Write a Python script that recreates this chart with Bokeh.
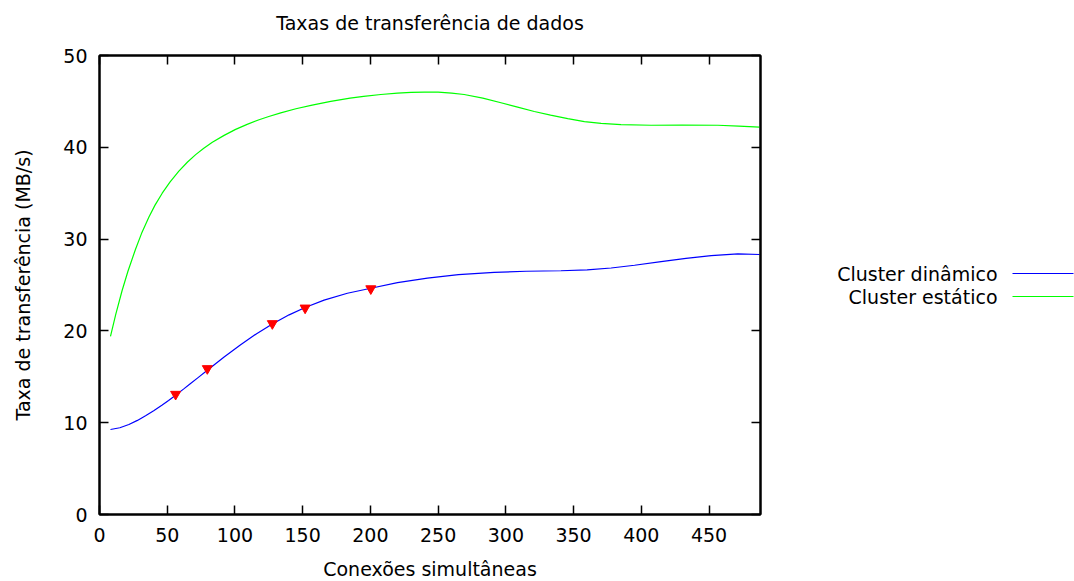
from bokeh.plotting import figure
from bokeh.layouts import row, column
from bokeh.models import Range1d, LinearAxis, FixedTicker, ColumnDataSource
from bokeh.core.properties import value
from bokeh.embed import file_html
from bokeh.resources import INLINE

# ---- data ----
dyn_x = [8.1, 15, 21.7, 28, 34, 40, 46.3, 51, 56.2, 62, 67, 73, 79.6, 92, 104.2, 116,
         127.6, 140, 151.8, 165.8, 183, 200.3, 220, 242.1, 265, 291.4, 315, 340.7, 360,
         377.7, 395, 414.6, 433, 451.6, 471.3, 487.3]
dyn_y = [9.26, 9.45, 9.8, 10.25, 10.75, 11.3, 11.92, 12.42, 13.0, 13.66, 14.24, 14.94,
         15.71, 17.15, 18.5, 19.7, 20.75, 21.75, 22.55, 23.35, 24.1, 24.65, 25.25, 25.75,
         26.12, 26.38, 26.5, 26.55, 26.65, 26.85, 27.15, 27.55, 27.9, 28.2, 28.38, 28.32]
mark_x = [56.2, 79.6, 127.6, 151.8, 200.3]
mark_y = [13.1, 15.9, 20.8, 22.5, 24.6]
sta_x = [8.1, 12, 16.7, 21, 26.6, 31, 36.5, 41, 46.3, 52, 58.6, 65, 71, 77, 83.3, 92,
         100.5, 109, 117.8, 125, 133.8, 145, 157, 170.7, 185, 195, 207.7, 220, 230, 239.7,
         250, 260, 269.2, 283, 296.4, 308, 321, 333, 345.7, 358, 370.3, 385, 407.2, 430,
         456.5, 472, 487.3]
sta_y = [19.4, 21.8, 24.4, 26.5, 28.9, 30.6, 32.4, 33.7, 35.0, 36.2, 37.4, 38.4, 39.2,
         39.9, 40.55, 41.3, 41.95, 42.5, 43.0, 43.35, 43.75, 44.2, 44.6, 45.0, 45.35, 45.55,
         45.75, 45.9, 45.98, 46.0, 46.0, 45.9, 45.75, 45.35, 44.85, 44.4, 43.9, 43.5, 43.12,
         42.8, 42.6, 42.47, 42.4, 42.42, 42.4, 42.3, 42.2]
x_ticks = [0, 50, 100, 150, 200, 250, 300, 350, 400, 450]
y_ticks = [0, 10, 20, 30, 40, 50]
series_names = ["Cluster dinâmico", "Cluster estático"]
series_colors = ["#0000ff", "#00ff00"]
title_text = ["Taxas de transferência de dados"]

FONT = "DejaVu Sans"
FS = "19px"
W, H = 1074, 581
TITLE_H = 40
FW, FH = 661, 459
LEFT, TOP_B, BOTTOM_B = 99, 15, 67
P_W = 780

# ---- title strip ----
t = figure(width=W, height=TITLE_H, x_range=Range1d(0, W), y_range=Range1d(TITLE_H, 0),
           output_backend="svg", toolbar_location=None, min_border=0,
           x_axis_type=None, y_axis_type=None, outline_line_color=None)
t.grid.visible = False
t.text(x=[LEFT + FW / 2], y=[22], text=title_text, text_align="center",
       text_baseline="middle", text_font_size=FS, text_color="black", text_font=value(FONT))

# ---- main plot ----
p = figure(frame_width=FW, frame_height=FH, x_range=Range1d(0, 488), y_range=Range1d(0, 50),
           output_backend="svg", toolbar_location=None,
           min_border_left=LEFT, min_border_right=P_W - LEFT - FW, min_border_top=TOP_B,
           min_border_bottom=BOTTOM_B,
           x_axis_label="Conexões simultâneas", y_axis_label="Taxa de transferência (MB/s)")
p.grid.visible = False
p.outline_line_color = "black"
p.outline_line_width = 2
p.background_fill_color = "white"
p.border_fill_color = "white"

for ax in p.xaxis:
    ax.ticker = FixedTicker(ticks=x_ticks)
for ax in p.yaxis:
    ax.ticker = FixedTicker(ticks=y_ticks)

for ax in list(p.xaxis) + list(p.yaxis):
    ax.major_tick_in = 9
    ax.major_tick_out = 0
    ax.minor_tick_line_color = None
    ax.major_tick_line_width = 1.5
    ax.axis_line_width = 2
    ax.major_label_text_font = FONT
    ax.major_label_text_font_size = FS
    ax.major_label_text_color = "black"
    ax.axis_label_text_font = FONT
    ax.axis_label_text_font_size = FS
    ax.axis_label_text_font_style = "normal"
    ax.axis_label_text_color = "black"
p.xaxis.major_label_standoff = 13
p.xaxis.axis_label_standoff = 13
p.yaxis.major_label_standoff = 12
p.yaxis.axis_label_standoff = 26

top = LinearAxis(ticker=FixedTicker(ticks=x_ticks), major_label_text_font_size="0px",
                 major_tick_in=9, major_tick_out=0, minor_tick_line_color=None,
                 major_tick_line_width=1.5, axis_line_width=2, major_label_standoff=0)
top.major_label_text_alpha = 0
right = LinearAxis(ticker=FixedTicker(ticks=y_ticks), major_label_text_font_size="0px",
                   major_tick_in=9, major_tick_out=0, minor_tick_line_color=None,
                   major_tick_line_width=1.5, axis_line_width=2, major_label_standoff=0)
right.major_label_text_alpha = 0
p.add_layout(top, "above")
p.add_layout(right, "right")

p.line(dyn_x, dyn_y, line_color=series_colors[0], line_width=1.2)
p.line(sta_x, sta_y, line_color=series_colors[1], line_width=1.2)
p.scatter(mark_x, mark_y, marker="inverted_triangle", size=10, fill_color="red",
          line_color="red")

# ---- legend panel (text, then sample line to its right); y in pixels from frame top ----
q = figure(frame_width=W - P_W, frame_height=FH, x_range=Range1d(0, W - P_W),
           y_range=Range1d(FH, 0), output_backend="svg", toolbar_location=None,
           min_border_left=0, min_border_right=0, min_border_top=TOP_B,
           min_border_bottom=BOTTOM_B, x_axis_type=None, y_axis_type=None,
           outline_line_color=None)
q.grid.visible = False
leg = ColumnDataSource(dict(tx=[217, 217], ty=[218, 241], x0=[232, 232], x1=[293, 293],
                            name=series_names, color=series_colors))
q.text(x="tx", y="ty", text="name", source=leg, text_align="right", text_baseline="middle",
       text_font_size=FS, text_color="black", text_font=value(FONT))
q.segment(x0="x0", y0="ty", x1="x1", y1="ty", line_color="color", source=leg, line_width=1.2)

layout = column(t, row(p, q, spacing=0), spacing=0)
open("out.html", "w").write(file_html(layout, INLINE))
